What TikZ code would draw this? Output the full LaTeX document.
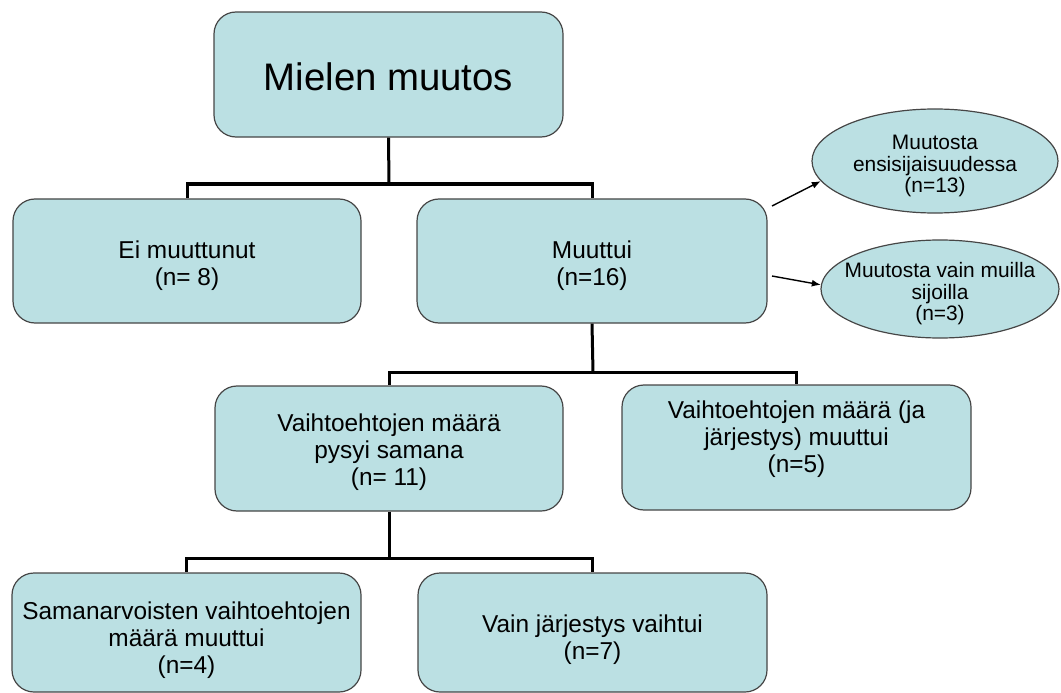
\documentclass[tikz,border=0pt]{standalone}
\usepackage{fontspec}
\setmainfont{Liberation Sans}
\usetikzlibrary{shapes.geometric,arrows.meta}
\definecolor{boxfill}{RGB}{187,224,227}
\definecolor{boxline}{RGB}{70,70,70}
\begin{document}
\begin{tikzpicture}[x=1bp,y=-1bp,
  box/.style={draw=boxline, line width=1.2bp, fill=boxfill, rounded corners=22bp, inner sep=0pt},
  oval/.style={ellipse, draw=boxline, line width=1.2bp, fill=boxfill, inner sep=0pt},
  txt/.style={align=center, inner sep=0pt, font=\fontsize{24.5}{27}\selectfont},
  otxt/.style={align=center, inner sep=0pt, font=\fontsize{21}{21.5}\selectfont},
  conn/.style={line width=3bp, black},
  arr/.style={line width=1.4bp, black, -{Latex[length=9bp,width=7bp]}}]
\useasboundingbox (0,0) rectangle (1061,693);
% boxes
\node[box, minimum width=349bp, minimum height=125bp] (top) at (388.5,74.5) {};
\node[box, minimum width=348bp, minimum height=124bp] (ei) at (187,261) {};
\node[box, minimum width=350bp, minimum height=124bp] (mu) at (592,261) {};
\node[oval, minimum width=246bp, minimum height=104bp] (e1) at (935,161) {};
\node[oval, minimum width=238bp, minimum height=98bp] (e2) at (940,289) {};
\node[box, minimum width=348bp, minimum height=125bp] (v1) at (389,448.5) {};
\node[box, minimum width=349bp, minimum height=125bp] (v2) at (796.5,447.5) {};
\node[box, minimum width=349bp, minimum height=119bp] (sa) at (186.5,632.5) {};
\node[box, minimum width=349bp, minimum height=119bp] (vj) at (592.5,632.5) {};
% texts
\node[txt, font=\fontsize{38.5}{42}\selectfont] (top-t) at (388.5,76.5) {Mielen muutos};
\node[txt] (ei-t) at (187,266) {Ei muuttunut\\(n= 8)};
\node[txt] (mu-t) at (592,266) {Muuttui\\(n=16)};
\node[otxt] (e1-t) at (935,166) {Muutosta\\ensisijaisuudessa\\(n=13)};
\node[otxt] (e2-t) at (940,294) {Muutosta vain muilla\\sijoilla\\(n=3)};
\node[txt] (v1-t) at (389,452.5) {Vaihtoehtojen määrä\\pysyi samana\\(n= 11)};
\node[txt] (v2-t) at (796.5,439) {Vaihtoehtojen määrä (ja\\järjestys) muuttui\\(n=5)};
\node[txt] (sa-t) at (186.5,640) {Samanarvoisten vaihtoehtojen\\määrä muuttui\\(n=4)};
\node[txt] (vj-t) at (592.5,639.5) {Vain järjestys vaihtui\\(n=7)};
% connectors
\coordinate (j1) at (389,184);
\coordinate (j2) at (593,372);
\coordinate (j3) at (389,558);
\coordinate (a1) at (772,206);
\coordinate (a2) at (772,276);
\draw[conn] (top.south) -- (j1);
\draw[conn] (j1) -| (ei.north);
\draw[conn] (j1) -| (mu.north);
\draw[conn] (mu.south) -- (j2);
\draw[conn] (j2) -| (v1.north);
\draw[conn] (j2) -| (v2.north);
\draw[conn] (v1.south) -- (j3);
\draw[conn] (j3) -| (sa.north);
\draw[conn] (j3) -| (vj.north);
\draw[arr] (a1) -- (e1.190);
\draw[arr] (a2) -- (e2.178);
\end{tikzpicture}
\end{document}
